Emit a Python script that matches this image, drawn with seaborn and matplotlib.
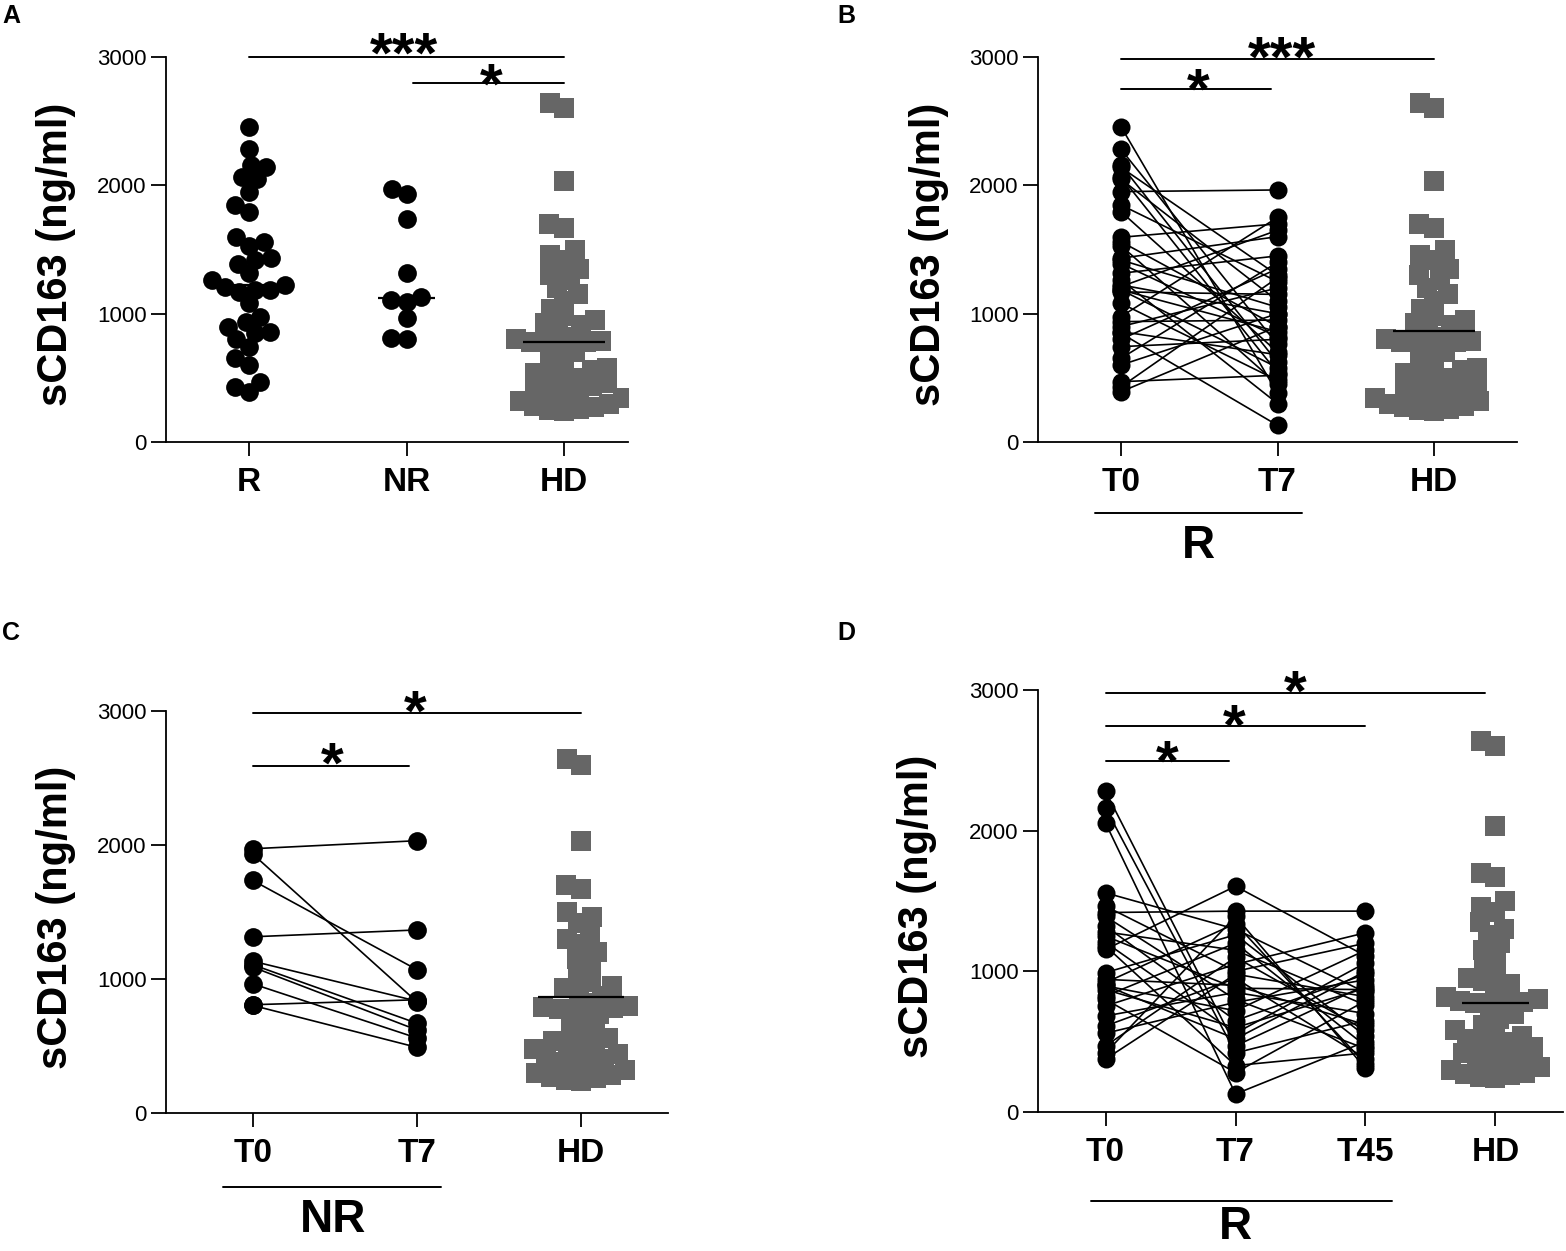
import matplotlib
matplotlib.use("Agg")
import matplotlib.pyplot as plt
import seaborn as sns
import numpy as np
import pandas as pd

# sCD163 (ng/ml) values
# responders (R), T0 and paired T7
r_t0 = [2457, 2281, 2159, 2140, 2068, 2048, 1951, 1847, 1795, 1595, 1561, 1530,
        1432, 1418, 1390, 1315, 1263, 1224, 1211, 1185, 1185, 1170, 1081, 977,
        938, 900, 860, 847, 800, 743, 652, 600, 470, 430, 392]
r_t7 = [380, 760, 620, 1300, 540, 1100, 1964, 1250, 700, 1700, 900, 450,
        1600, 1050, 820, 1450, 300, 1000, 1650, 860, 580, 1150, 480, 1750,
        950, 1200, 680, 130, 1350, 800, 1400, 1000, 520, 1280, 900]

# non responders (NR), T0 and paired T7
nr_t0 = [1972, 1933, 1736, 1315, 1133, 1107, 1089, 964, 808, 803]
nr_t7 = [2032, 830, 1070, 1366, 835, 670, 620, 560, 845, 490]

# healthy donors (HD)
hd = [2640, 2600, 2030, 1700, 1670, 1500, 1460, 1420, 1350, 1300,
      1260, 1200, 1150, 1100, 1040, 980, 950, 930, 910, 870,
      820, 800, 790, 780, 778, 776, 740, 700, 660, 620,
      580, 560, 540, 520, 500, 480, 460, 440, 420, 400,
      380, 360, 340, 320, 300, 280, 270, 260, 250, 240]

# responders followed to T45 (panel D)
d_t0 = [2279, 2161, 2054, 1558, 1463, 1418, 1390, 1321, 1280, 1250, 1205, 1156,
        1180, 991, 943, 920, 896, 870, 825, 800, 754, 683, 612, 560, 470, 420, 376, 900]
d_t7 = [470, 420, 128, 1300, 1000, 1428, 800, 650, 1150, 880, 560, 1605,
        330, 1260, 900, 1340, 720, 600, 1200, 280, 1050, 850, 950, 780, 1100, 1390, 980, 520]
d_t45 = [900, 650, 500, 850, 1200, 1428, 450, 980, 760, 870, 1060, 1110,
         420, 540, 620, 340, 1150, 880, 470, 790, 1274, 700, 380, 940, 580, 310, 820, 1000]

sns.set_style("ticks")
plt.rcParams["font.family"] = ["Liberation Sans", "DejaVu Sans"]
for key in ["text.color", "axes.labelcolor", "xtick.color", "ytick.color", "axes.edgecolor"]:
    plt.rcParams[key] = "black"

GREY = "#666666"
W, H = 1566, 1251
STAR_SIZE = 42

# swarms are laid out with a smaller marker, then drawn with the full size,
# so the points overlap the way they do in the original figure
swarms = []


def rect(left, top, right, bottom):
    return [left / W, 1 - bottom / H, (right - left) / W, (bottom - top) / H]


def style_axis(ax, labels, xlim):
    ax.set_ylim(0, 3000)
    ax.set_yticks([0, 1000, 2000, 3000])
    ax.set_xlim(*xlim)
    ax.set_xticks(range(len(labels)), labels)
    sns.despine(ax=ax)
    for side in ["left", "bottom"]:
        ax.spines[side].set_linewidth(1.3)
    ax.tick_params(axis="y", length=11, width=1.3, labelsize=16, pad=3)
    ax.tick_params(axis="x", length=10, width=1.3, labelsize=24, pad=8)
    for t in ax.get_xticklabels():
        t.set_fontweight("bold")
    ax.set_xlabel("")
    ax.set_ylabel("")


def swarm(ax, x, y, marker, color, size, layout_size):
    n_before = len(ax.collections)
    sns.swarmplot(x=x, y=y, native_scale=True, orient="v", marker=marker,
                  color=color, size=layout_size, linewidth=0, ax=ax, zorder=3)
    for coll in ax.collections[n_before:]:
        swarms.append((coll, size))


def sig(ax, x0, x1, y, stars, xs, ys):
    ax.plot([x0, x1], [y, y], color="black", lw=1.4, clip_on=False)
    ax.annotate(stars, (xs, ys), xytext=(0, -0.55 * STAR_SIZE), textcoords="offset points",
                ha="center", va="baseline", fontsize=STAR_SIZE, fontweight="bold",
                annotation_clip=False)


def group_label(ax, x0, x1, y, text, xt, yt):
    tr = ax.get_xaxis_transform()
    ax.plot([x0, x1], [y, y], color="black", lw=1.4, transform=tr, clip_on=False)
    ax.text(xt, yt, text, transform=tr, ha="center", va="center",
            fontsize=33, fontweight="bold")


def hd_swarm(ax, pos):
    swarm(ax, np.full(len(hd), float(pos)), hd, "s", GREY, 14, 10.5)


def paired(ax, columns, size=13):
    rows = []
    for i, col in enumerate(columns):
        for subj, v in enumerate(col):
            rows.append({"subject": subj, "pos": i, "value": v})
    df = pd.DataFrame(rows)
    sns.lineplot(data=df, x="pos", y="value", units="subject", estimator=None,
                 color="black", linewidth=1.2, legend=False, ax=ax, zorder=2)
    sns.scatterplot(data=df, x="pos", y="value", color="black", s=size ** 2,
                    linewidth=0, legend=False, ax=ax, zorder=3)


fig = plt.figure(figsize=(W / 100, H / 100), dpi=100)

# ---- A
axA = fig.add_axes(rect(166, 57, 628, 442))
swarm(axA, [0.0] * len(r_t0) + [1.0] * len(nr_t0), r_t0 + nr_t0, "o", "black", 13.5, 10.5)
hd_swarm(axA, 2)
axA.hlines(np.median(r_t0), -0.26, 0.26, color="black", lw=1.6, zorder=4)
axA.hlines(np.median(nr_t0), 0.82, 1.18, color="black", lw=1.6, zorder=4)
axA.hlines(np.median(hd), 1.74, 2.26, color="black", lw=1.6, zorder=4)
style_axis(axA, ["R", "NR", "HD"], (-0.527, 2.406))
sig(axA, 0, 2, 3000, "***", 0.984, 3129)
sig(axA, 1.04, 2, 2796, "*", 1.537, 2888)

# ---- B
axB = fig.add_axes(rect(1038, 57, 1517, 442))
paired(axB, [r_t0, r_t7], size=13)
hd_swarm(axB, 2)
axB.hlines(np.mean(hd), 1.74, 2.26, color="black", lw=1.6, zorder=4)
style_axis(axB, ["T0", "T7", "HD"], (-0.53, 2.53))
sig(axB, 0, 2, 2983, "***", 1.03, 3094)
sig(axB, 0, 0.96, 2749, "*", 0.491, 2847)
group_label(axB, -0.169, 1.158, -0.184, "R", 0.495, -0.270)

# ---- C
axC = fig.add_axes(rect(166, 711, 668, 1113))
paired(axC, [nr_t0, nr_t7], size=13.5)
hd_swarm(axC, 2)
axC.hlines(np.mean(hd), 1.74, 2.26, color="black", lw=1.6, zorder=4)
style_axis(axC, ["T0", "T7", "HD"], (-0.528, 2.53))
sig(axC, 0, 2, 2983, "*", 0.988, 3097)
sig(axC, 0, 0.95, 2590, "*", 0.483, 2709)
group_label(axC, -0.183, 1.148, -0.184, "NR", 0.489, -0.266)

# ---- D
axD = fig.add_axes(rect(1038, 690, 1563, 1112))
paired(axD, [d_t0, d_t7, d_t45], size=13)
hd_swarm(axD, 3)
axD.hlines(np.median(hd), 2.74, 3.26, color="black", lw=1.6, zorder=4)
style_axis(axD, ["T0", "T7", "T45", "HD"], (-0.52, 3.52))
sig(axD, 0, 2.92, 2976, "*", 1.46, 3083)
sig(axD, 0, 2.0, 2744, "*", 0.988, 2842)
sig(axD, 0, 0.95, 2497, "*", 0.475, 2587)
group_label(axD, -0.11, 2.202, -0.210, "R", 1.0, -0.272)

# y labels and panel letters
ylab = "sCD163 (ng/ml)"
for x, y in [(56, 254), (929, 254), (56, 917), (917, 906)]:
    fig.text(x / W, 1 - y / H, ylab, rotation=90, ha="center", va="center",
             fontsize=30, fontweight="bold")
for letter, x, y in [("A", 2, 16), ("B", 837, 16), ("C", 2, 633), ("D", 837, 633)]:
    fig.text(x / W, 1 - y / H, letter, ha="left", va="center", fontsize=18, fontweight="bold")

# run the swarm layout once, then freeze the positions and enlarge the markers
fig.canvas.draw()
for coll, size in swarms:
    offsets = np.array(coll.get_offsets())
    coll.__dict__.pop("draw", None)
    coll.set_offsets(offsets)
    coll.set_sizes([size ** 2])

fig.savefig("out.png", dpi=100)
